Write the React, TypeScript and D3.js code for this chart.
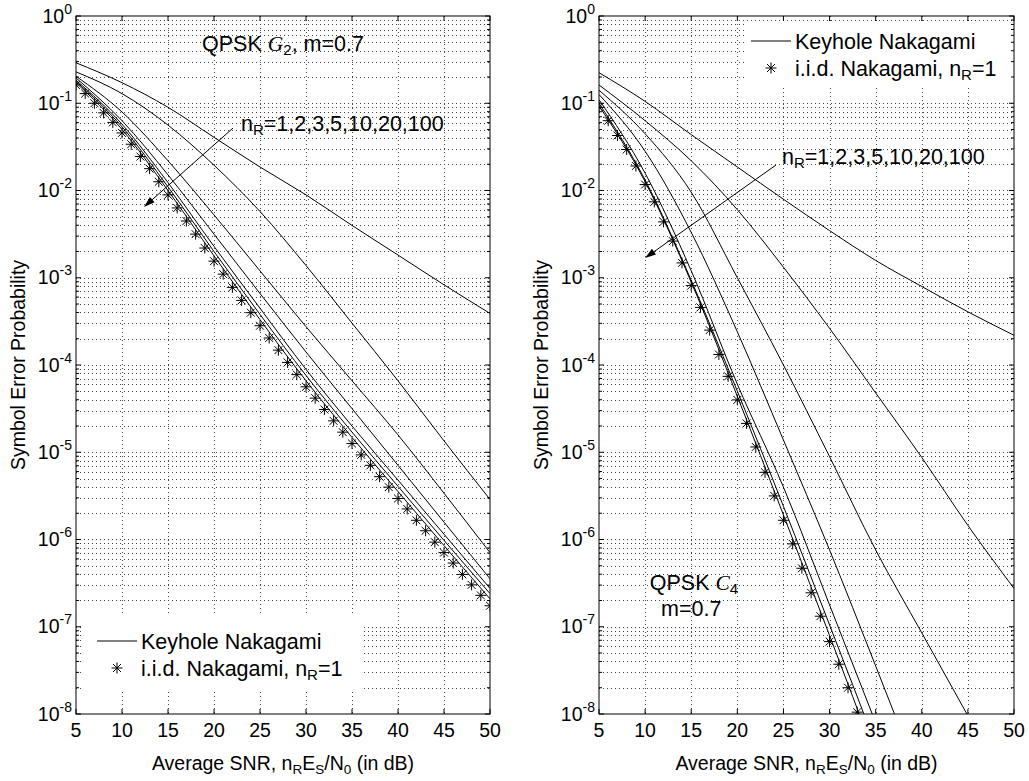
import React from "react";
import * as d3 from "d3";

const WIDTH = 1029;
const HEIGHT = 781;
const TOP = 16;
const BOTTOM = 714;
const FONT = "'Liberation Sans', Arial, Helvetica, sans-serif";
const SERIF = "'Liberation Serif', 'DejaVu Serif', serif";

// SNR values (dB)
const snrCoarse = [5, 10, 15, 20, 25, 30, 35, 40, 45, 50];
const snrLeftIid = d3.range(5, 51);
const snrRightIid = d3.range(5, 34);

// Left panel: QPSK G2, m=0.7 - keyhole Nakagami, nR = 1,2,3,5,10,20,100
const g2nR1 = [0.291, 0.172, 0.0899, 0.0407, 0.0186, 0.00891, 0.00398, 0.00182, 8.3e-4, 3.9e-4];
const g2nR2 = [0.229, 0.129, 0.0562, 0.0195, 0.00575, 0.00138, 3.02e-4, 6.6e-5, 1.35e-5, 2.88e-6];
const g2nR3 = [0.204, 0.0794, 0.0219, 0.00525, 0.0012, 2.75e-4, 6.6e-5, 1.58e-5, 3.39e-6, 7.08e-7];
const g2nR5 = [0.195, 0.0631, 0.0151, 0.00316, 6.6e-4, 1.41e-4, 3.16e-5, 7.08e-6, 1.58e-6, 3.55e-7];
const g2nR10 = [0.184, 0.0575, 0.0123, 0.00229, 4.47e-4, 8.91e-5, 2.0e-5, 4.79e-6, 1.15e-6, 2.75e-7];
const g2nR20 = [0.178, 0.0537, 0.011, 0.002, 3.8e-4, 7.59e-5, 1.7e-5, 4.07e-6, 9.77e-7, 2.4e-7];
const g2nR100 = [0.172, 0.0501, 0.01, 0.00178, 3.31e-4, 6.6e-5, 1.48e-5, 3.55e-6, 8.51e-7, 2.09e-7];
// i.i.d. Nakagami, nR=1 (markers every dB)
const g2Iid = [
  0.162, 0.129, 0.1, 0.0776, 0.0603, 0.0457, 0.0339, 0.0245, 0.0178, 0.0126,
  0.00891, 0.00631, 0.00447, 0.00316, 0.00219, 0.00155, 0.0011, 7.76e-4, 5.5e-4, 3.98e-4,
  2.82e-4, 2.04e-4, 1.48e-4, 1.07e-4, 7.76e-5, 5.62e-5, 4.17e-5, 3.09e-5, 2.29e-5, 1.7e-5,
  1.26e-5, 9.33e-6, 7.08e-6, 5.25e-6, 3.98e-6, 2.95e-6, 2.24e-6, 1.66e-6, 1.26e-6, 9.33e-7,
  7.08e-7, 5.37e-7, 3.98e-7, 3.02e-7, 2.29e-7, 1.74e-7,
];

// Right panel: QPSK C4, m=0.7
const c4nR1 = [0.224, 0.105, 0.0437, 0.0186, 0.00794, 0.00347, 0.00158, 7.94e-4, 4.07e-4, 2.19e-4];
const c4nR2 = [0.162, 0.0631, 0.0219, 0.00603, 0.00132, 2.63e-4, 4.79e-5, 8.71e-6, 1.45e-6, 2.75e-7];
const c4nR3 = [0.141, 0.0447, 0.00955, 0.001, 1e-4, 8.91e-6, 7.59e-7, 8.51e-8, 9.55e-9];
const c4nR5 = [0.126, 0.0282, 0.00331, 2.4e-4, 1.38e-5, 7.59e-7, 3.55e-8, 1.58e-9];
const c4nR10 = [0.11, 0.0158, 0.0012, 6.03e-5, 3.98e-6, 1.78e-7, 7.94e-9];
const c4nR20 = [0.1, 0.0132, 9.33e-4, 5.01e-5, 2.4e-6, 1.05e-7, 4.47e-9];
const c4nR100 = [0.0933, 0.0126, 8.91e-4, 4.37e-5, 1.91e-6, 7.94e-8, 3.16e-9];
const c4Iid = [
  0.0899, 0.0631, 0.0427, 0.0295, 0.0191, 0.0117, 0.00741, 0.00437, 0.00263, 0.00148,
  8.13e-4, 4.57e-4, 2.51e-4, 1.32e-4, 7.41e-5, 3.98e-5, 2.14e-5, 1.15e-5, 5.89e-6, 3.16e-6,
  1.66e-6, 8.91e-7, 4.68e-7, 2.45e-7, 1.32e-7, 6.76e-8, 3.72e-8, 2.0e-8, 1.05e-8,
];

// texts: even items normal, odd items subscript
const xLabelParts = ["Average SNR, n", "R", "E", "S", "/N", "0", " (in dB)"];
const iidLegendParts = ["i.i.d. Nakagami, n", "R", "=1"];
const nRParts = ["n", "R", "=1,2,3,5,10,20,100"];

type Pt = [number, number];

const zip = (xs: number[], ys: number[]): Pt[] => ys.map((v, i) => [xs[i], v]);

function Asterisk({ x, y, r = 5.5 }: { x: number; y: number; r?: number }) {
  const d = r * 0.72;
  return (
    <path
      d={`M${x - r},${y}H${x + r}M${x},${y - r}V${y + r}M${x - d},${y - d}L${x + d},${y + d}M${x - d},${y + d}L${x + d},${y - d}`}
      stroke="#000"
      strokeWidth={1}
      fill="none"
    />
  );
}

// alternating normal / subscript tspans
function rich(parts: string[], subSize: number, drop = 4) {
  let shift = 0;
  return parts.map((p, i) => {
    const target = i % 2 === 1 ? drop : 0;
    const dy = target - shift;
    shift = target;
    return (
      <tspan key={i} dy={dy} fontSize={i % 2 === 1 ? subSize : undefined}>
        {p}
      </tspan>
    );
  });
}

function Arrow({ from, to }: { from: Pt; to: Pt }) {
  const [ax, ay] = from;
  const [bx, by] = to;
  const len = Math.hypot(bx - ax, by - ay);
  const ux = (bx - ax) / len;
  const uy = (by - ay) / len;
  const L = 11;
  const w = 3.5;
  const hx = bx - ux * L;
  const hy = by - uy * L;
  return (
    <g>
      <line x1={ax} y1={ay} x2={hx} y2={hy} stroke="#000" strokeWidth={1} />
      <path d={`M${bx},${by}L${hx - uy * w},${hy + ux * w}L${hx + uy * w},${hy - ux * w}Z`} fill="#000" />
    </g>
  );
}

type PanelProps = {
  id: string;
  x0: number;
  x1: number;
  yLabelX: number;
  curves: Pt[][];
  iid: Pt[];
  arrow: [Pt, Pt];
  arrowText: Pt;
  legendBox: [number, number, number, number];
  legendRows: [number, number];
  legendX: number;
  children?: (x: any, y: any) => React.ReactNode;
};

function Panel({ id, x0, x1, yLabelX, curves, iid, arrow, arrowText, legendBox, legendRows, legendX, children }: PanelProps) {
  const x = d3.scaleLinear().domain([5, 50]).range([x0, x1]);
  const y = d3.scaleLog().domain([1e-8, 1]).range([BOTTOM, TOP]);
  const line = d3
    .line<Pt>()
    .x((d) => x(d[0]))
    .y((d) => y(d[1]))
    .curve(d3.curveMonotoneX);

  const xTicks = x.ticks(10);
  const yTicks = y.ticks();
  const isMajor = (v: number) => Math.abs(Math.log10(v) - Math.round(Math.log10(v))) < 1e-6;
  const grid = { stroke: "#444", strokeWidth: 1, strokeDasharray: "1 3", shapeRendering: "crispEdges" as const };

  const [lbx, lby, lbw, lbh] = legendBox;
  const [row1, row2] = legendRows;

  return (
    <g>
      <defs>
        <clipPath id={id}>
          <rect x={x0} y={TOP} width={x1 - x0} height={BOTTOM - TOP} />
        </clipPath>
      </defs>
      <rect x={x0} y={TOP} width={x1 - x0} height={BOTTOM - TOP} fill="#fff" />
      {/* grid */}
      {xTicks.slice(1, -1).map((t) => (
        <line key={"gx" + t} x1={Math.round(x(t)) + 0.5} x2={Math.round(x(t)) + 0.5} y1={TOP} y2={BOTTOM} {...grid} />
      ))}
      {yTicks
        .filter((t) => t > 1e-8 && t < 1)
        .map((t) => (
          <line key={"gy" + t} x1={x0} x2={x1} y1={Math.round(y(t)) + 0.5} y2={Math.round(y(t)) + 0.5} {...grid} />
        ))}
      {/* legend background hides grid */}
      <rect x={lbx} y={lby} width={lbw} height={lbh} fill="#fff" />
      {/* curves */}
      <g clipPath={`url(#${id})`}>
        {curves.map((c, i) => (
          <path key={i} d={line(c) || ""} fill="none" stroke="#000" strokeWidth={1} />
        ))}
        {iid.map((p, i) => (
          <Asterisk key={i} x={x(p[0])} y={y(p[1])} />
        ))}
      </g>
      {/* ticks */}
      {xTicks.map((t) => (
        <g key={"tx" + t}>
          <line x1={x(t)} x2={x(t)} y1={BOTTOM} y2={BOTTOM - 5} stroke="#000" />
          <line x1={x(t)} x2={x(t)} y1={TOP} y2={TOP + 5} stroke="#000" />
          <text x={x(t)} y={BOTTOM + 23} textAnchor="middle" fontSize={19.5}>
            {t}
          </text>
        </g>
      ))}
      {yTicks.map((t) => {
        const len = isMajor(t) ? 5 : 3;
        return (
          <g key={"ty" + t}>
            <line x1={x0} x2={x0 + len} y1={y(t)} y2={y(t)} stroke="#000" />
            <line x1={x1} x2={x1 - len} y1={y(t)} y2={y(t)} stroke="#000" />
          </g>
        );
      })}
      {yTicks.filter(isMajor).map((t) => (
        <text key={"ly" + t} x={x0 - 4} y={y(t) + 6.5} textAnchor="end" fontSize={19.5}>
          10
          <tspan fontSize={14} dy={-9}>
            {Math.round(Math.log10(t))}
          </tspan>
        </text>
      ))}
      <rect x={x0} y={TOP} width={x1 - x0} height={BOTTOM - TOP} fill="none" stroke="#000" strokeWidth={1} />

      {/* axis labels */}
      <text x={(x0 + x1) / 2} y={770} textAnchor="middle" fontSize={19.5}>
        {rich(xLabelParts, 13.5)}
      </text>
      <text transform={`translate(${yLabelX},${(TOP + BOTTOM) / 2}) rotate(-90)`} textAnchor="middle" fontSize={19.5}>
        Symbol Error Probability
      </text>

      {/* legend */}
      <line x1={legendX - 44} x2={legendX - 4} y1={row1} y2={row1} stroke="#000" strokeWidth={1} />
      <text x={legendX} y={row1 + 7.5} fontSize={21.5}>
        Keyhole Nakagami
      </text>
      <Asterisk x={legendX - 24} y={row2} />
      <text x={legendX} y={row2 + 7.5} fontSize={21.5}>
        {rich(iidLegendParts, 15)}
      </text>

      {/* annotation arrow */}
      <Arrow from={[x(arrow[0][0]), y(arrow[0][1])]} to={[x(arrow[1][0]), y(arrow[1][1])]} />
      <text x={x(arrowText[0])} y={y(arrowText[1])} fontSize={21.5}>
        {rich(nRParts, 15)}
      </text>
      {children && children(x, y)}
    </g>
  );
}

export default function App() {
  const g2Curves = [g2nR1, g2nR2, g2nR3, g2nR5, g2nR10, g2nR20, g2nR100].map((s) => zip(snrCoarse, s));
  const c4Curves = [c4nR1, c4nR2, c4nR3, c4nR5, c4nR10, c4nR20, c4nR100].map((s) => zip(snrCoarse, s));

  return (
    <svg
      width={WIDTH}
      height={HEIGHT}
      viewBox={`0 0 ${WIDTH} ${HEIGHT}`}
      style={{ position: "absolute", left: 0, top: 0, background: "#fff" }}
      fontFamily={FONT}
      fill="#000"
    >
      <rect width={WIDTH} height={HEIGHT} fill="#fff" />
      <Panel
        id="clipL"
        x0={76}
        x1={490}
        yLabelX={25}
        curves={g2Curves}
        iid={zip(snrLeftIid, g2Iid)}
        arrow={[
          [22.07, 0.052],
          [12.39, 0.00647],
        ]}
        arrowText={[22.93, 0.0484]}
        legendBox={[84, 614, 280, 76]}
        legendRows={[641, 668]}
        legendX={141}
      >
        {(x, y) => (
          <text x={x(18.7)} y={y(0.4)} fontSize={21.5}>
            <tspan>QPSK </tspan>
            <tspan fontFamily={SERIF} fontStyle="italic">G</tspan>
            <tspan fontSize={15} dy={4}>2</tspan>
            <tspan dy={-4}>, m=0.7</tspan>
          </text>
        )}
      </Panel>
      <Panel
        id="clipR"
        x0={599}
        x1={1014}
        yLabelX={548}
        curves={c4Curves}
        iid={zip(snrRightIid, c4Iid)}
        arrow={[
          [24.19, 0.0196],
          [9.99, 0.00168],
        ]}
        arrowText={[24.84, 0.0203]}
        legendBox={[746, 22, 266, 64]}
        legendRows={[41, 68]}
        legendX={795}
      >
        {(x, y) => (
          <g>
            <text x={x(15.3)} y={y(2.66e-7)} fontSize={21.5} textAnchor="middle">
              <tspan>QPSK </tspan>
              <tspan fontFamily={SERIF} fontStyle="italic">C</tspan>
              <tspan fontSize={15} dy={4}>4</tspan>
            </text>
            <text x={x(15.0)} y={y(1.32e-7)} fontSize={21.5} textAnchor="middle">
              m=0.7
            </text>
          </g>
        )}
      </Panel>
    </svg>
  );
}
